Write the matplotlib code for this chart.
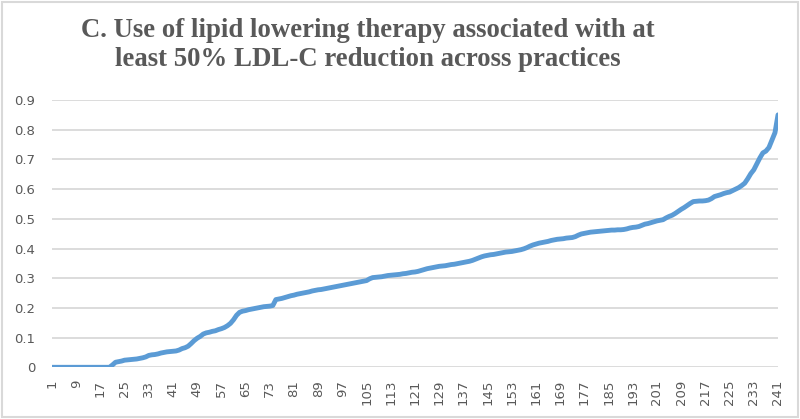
import matplotlib
matplotlib.use("Agg")
import matplotlib.pyplot as plt
from matplotlib.patches import Rectangle

title = "C. Use of lipid lowering therapy associated with at\nleast 50% LDL-C reduction across practices"

practices = list(range(1, 242))
proportion = [
    0, 0, 0, 0, 0, 0, 0, 0, 0, 0,
    0, 0, 0, 0, 0, 0, 0, 0, 0, 0,
    0.008, 0.017, 0.019, 0.021, 0.024, 0.025, 0.026, 0.027, 0.028, 0.030,
    0.032, 0.035, 0.040, 0.042, 0.043, 0.045, 0.048, 0.050, 0.052, 0.053,
    0.054, 0.055, 0.058, 0.063, 0.066, 0.071, 0.080, 0.090, 0.098, 0.104,
    0.112, 0.116, 0.118, 0.121, 0.123, 0.127, 0.130, 0.134, 0.140, 0.148,
    0.160, 0.175, 0.185, 0.189, 0.191, 0.194, 0.196, 0.198, 0.200, 0.202,
    0.204, 0.205, 0.206, 0.208, 0.228, 0.230, 0.232, 0.235, 0.238, 0.241,
    0.243, 0.246, 0.248, 0.250, 0.252, 0.254, 0.257, 0.259, 0.261, 0.262,
    0.264, 0.266, 0.268, 0.270, 0.272, 0.274, 0.276, 0.278, 0.280, 0.282,
    0.284, 0.286, 0.288, 0.290, 0.292, 0.298, 0.302, 0.303, 0.304, 0.305,
    0.307, 0.309, 0.310, 0.311, 0.312, 0.313, 0.315, 0.316, 0.318, 0.320,
    0.321, 0.323, 0.326, 0.329, 0.332, 0.334, 0.336, 0.338, 0.340, 0.341,
    0.342, 0.344, 0.346, 0.347, 0.349, 0.351, 0.353, 0.355, 0.357, 0.360,
    0.364, 0.368, 0.372, 0.375, 0.377, 0.379, 0.380, 0.382, 0.384, 0.386,
    0.388, 0.389, 0.390, 0.392, 0.394, 0.396, 0.399, 0.403, 0.408, 0.412,
    0.415, 0.418, 0.420, 0.422, 0.424, 0.427, 0.429, 0.431, 0.432, 0.433,
    0.435, 0.436, 0.437, 0.440, 0.445, 0.449, 0.451, 0.453, 0.455, 0.456,
    0.457, 0.458, 0.459, 0.460, 0.461, 0.462, 0.462, 0.463, 0.463, 0.464,
    0.466, 0.469, 0.471, 0.472, 0.474, 0.478, 0.482, 0.484, 0.487, 0.490,
    0.493, 0.495, 0.497, 0.503, 0.508, 0.512, 0.518, 0.525, 0.532, 0.538,
    0.545, 0.552, 0.558, 0.559, 0.560, 0.560, 0.561, 0.563, 0.568, 0.575,
    0.578, 0.581, 0.585, 0.588, 0.590, 0.595, 0.600, 0.605, 0.612, 0.620,
    0.635, 0.652, 0.665, 0.685, 0.705, 0.722, 0.728, 0.740, 0.765, 0.790,
    0.850,
]
x_ticks = list(range(1, 242, 8))
y_ticks = [0, 0.1, 0.2, 0.3, 0.4, 0.5, 0.6, 0.7, 0.8, 0.9]
y_tick_labels = ["0", "0.1", "0.2", "0.3", "0.4", "0.5", "0.6", "0.7", "0.8", "0.9"]

fig = plt.figure(figsize=(8.0, 4.19), dpi=100)
fig.patch.set_facecolor("white")
fig.patches.append(Rectangle((0.003, 0.004), 0.994, 0.992, transform=fig.transFigure,
                             fill=False, edgecolor="#D9D9D9", linewidth=1.5))

ax = fig.add_axes([0.065, 0.1234, 0.9075, 0.6379])
ax.plot(practices, proportion, color="#5B9BD5", linewidth=3.5, solid_capstyle="round",
        solid_joinstyle="round", zorder=3)
ax.set_xlim(1, 241)
ax.set_ylim(0, 0.9)
ax.set_yticks(y_ticks)
ax.set_yticklabels(y_tick_labels)
ax.set_xticks(x_ticks)
ax.set_xticklabels([str(t) for t in x_ticks], rotation=90)
for s in ax.spines.values():
    s.set_visible(False)
ax.grid(axis="y", color="#D9D9D9", linewidth=1.3)
ax.set_axisbelow(True)
ax.tick_params(axis="both", length=0, labelsize=9.5, labelcolor="#595959")
ax.tick_params(axis="y", pad=12)
ax.tick_params(axis="x", pad=9)

fig.text(0.46, 0.893, title, ha="center", va="center", multialignment="center",
         fontsize=19.3, fontweight="bold", family="Liberation Serif", color="#595959",
         linespacing=1.22)

fig.savefig("out.png", dpi=100)
